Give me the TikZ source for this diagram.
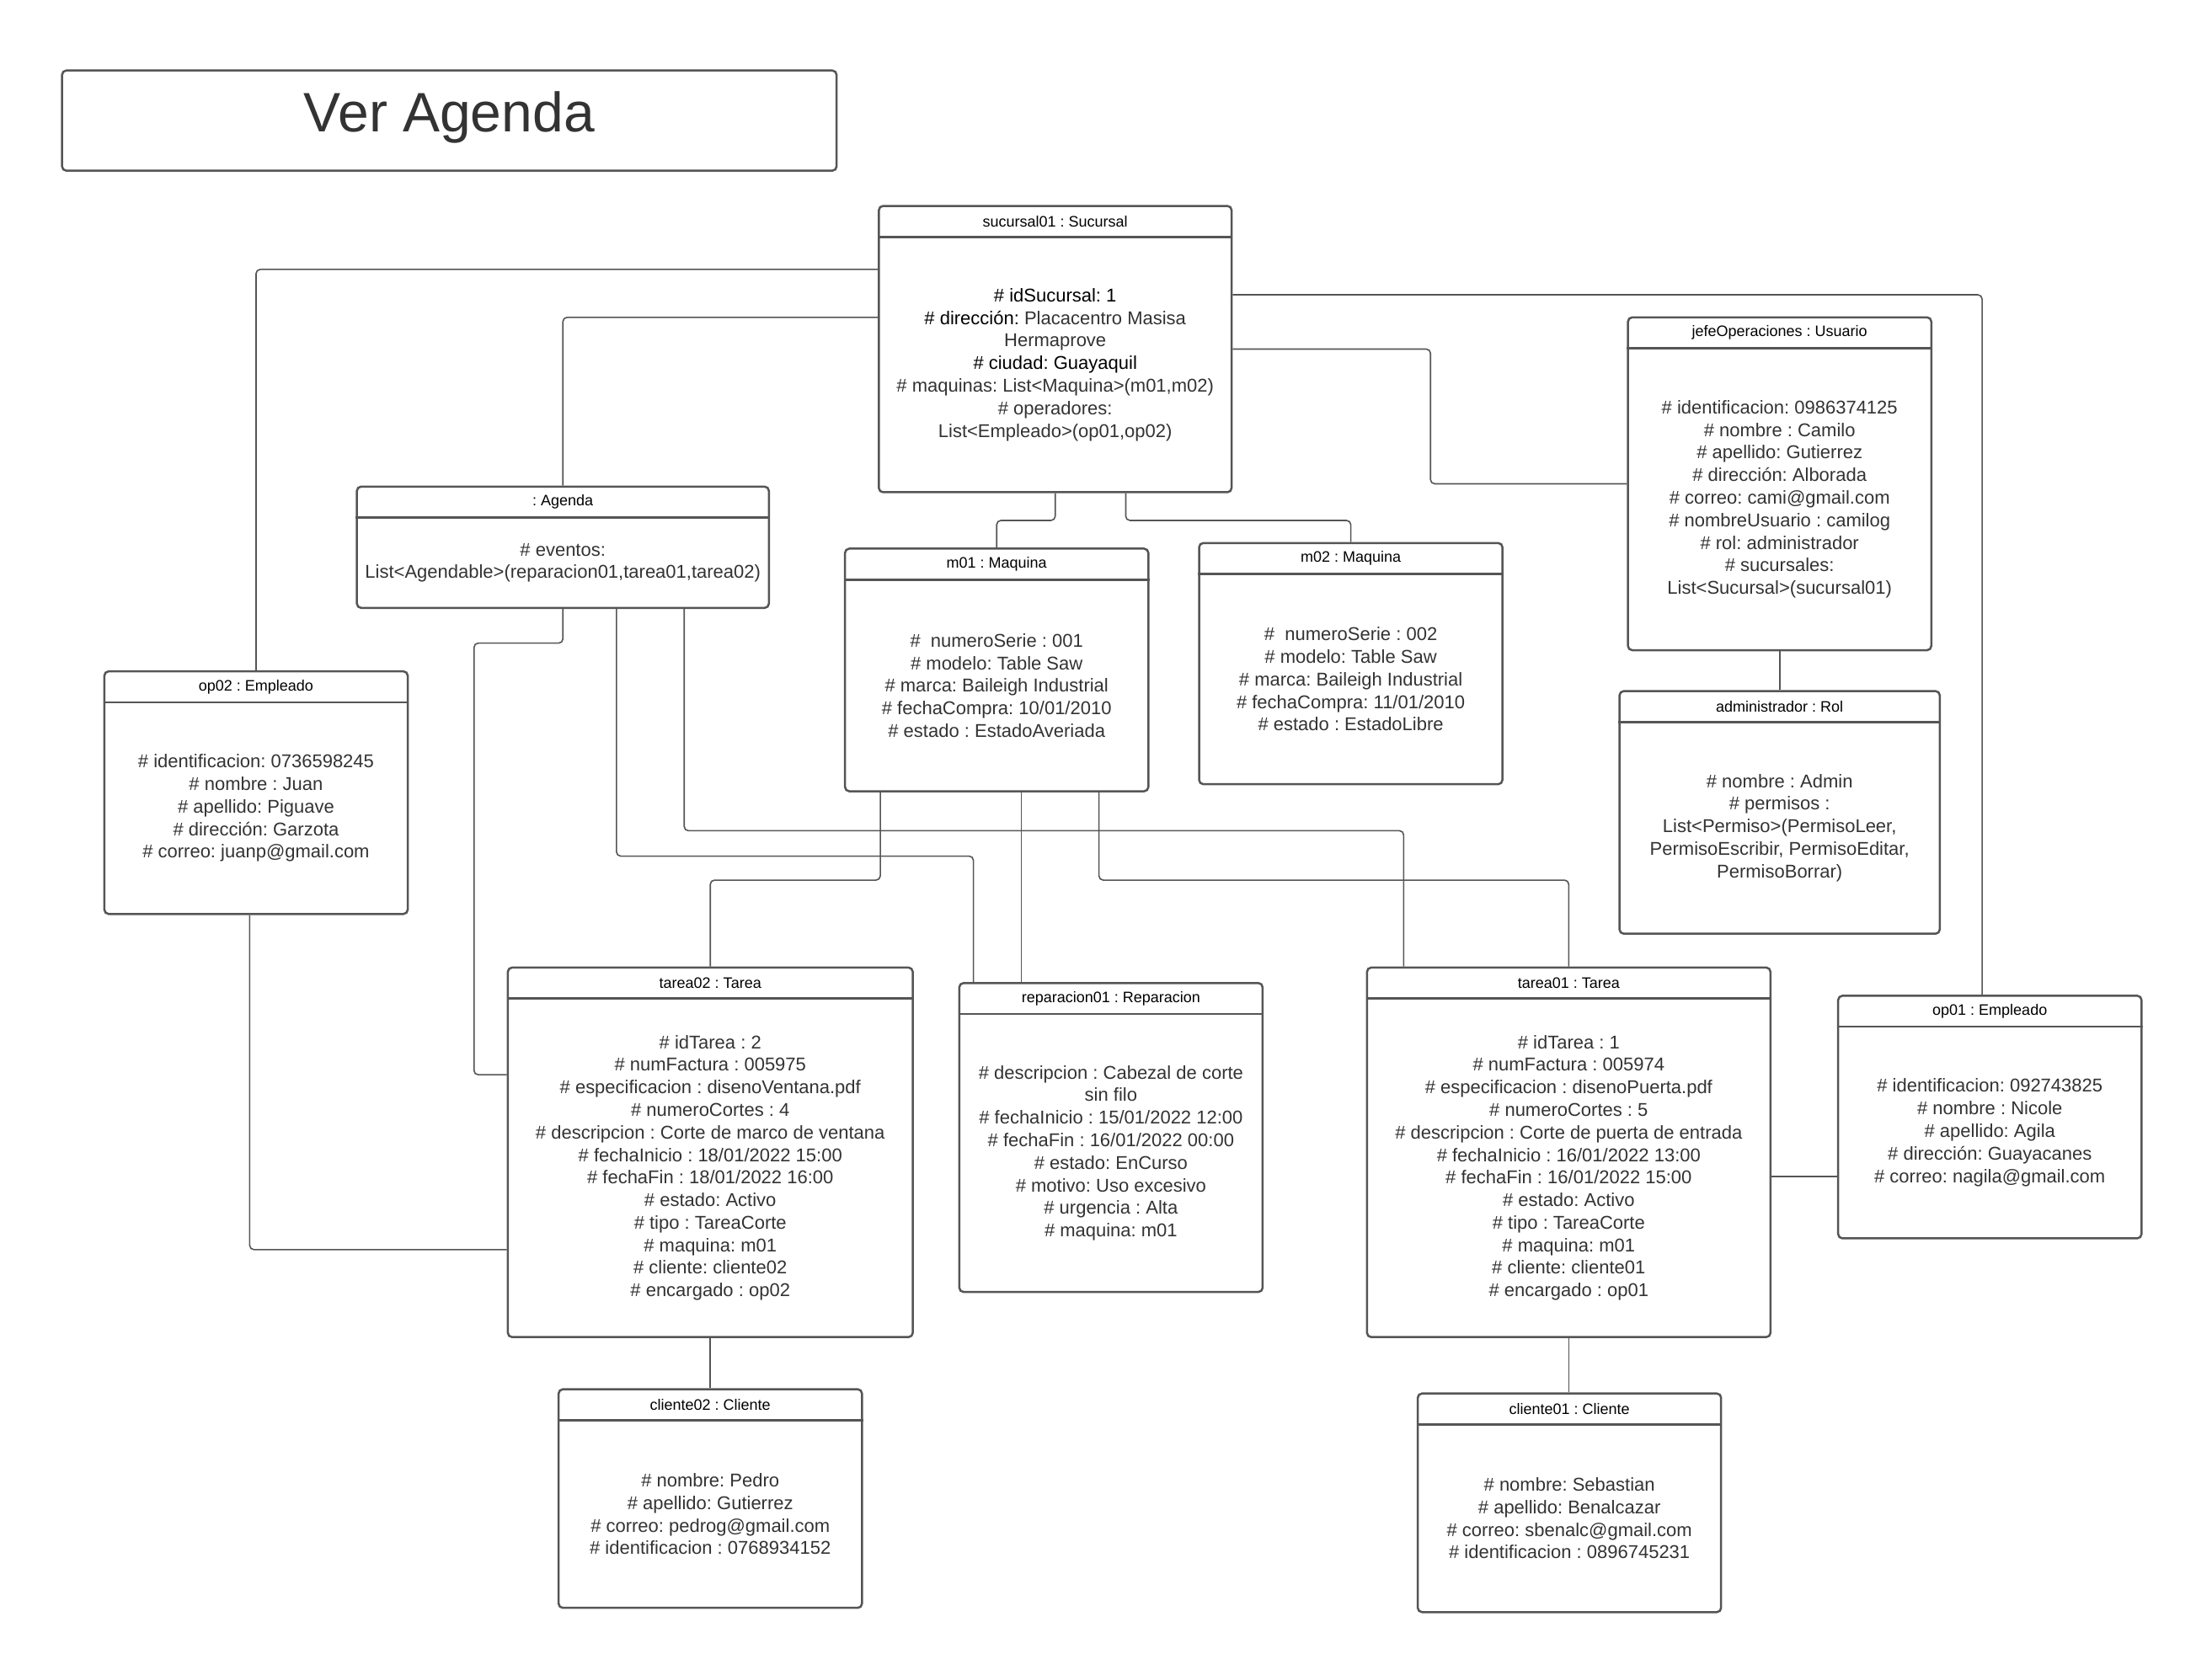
\documentclass[tikz,border=0pt]{standalone}
\usepackage{fontspec}
\setmainfont{Liberation Sans}
\frenchspacing
\usetikzlibrary{fit}
\definecolor{strokeg}{HTML}{555555}
\definecolor{txtg}{HTML}{333333}
\tikzset{
  box/.style={draw=strokeg, line width=1.25pt, rounded corners=2.5pt, inner sep=0pt, fill=white},
  boxline/.style={draw=strokeg, line width=1.25pt},
  hdr/.style={font=\fontsize{9}{11}\selectfont, text=black, inner sep=0pt},
  bodytxt/.style={font=\fontsize{11}{13.4}\selectfont, text=txtg, align=center, inner sep=0pt},
  conn/.style={draw=strokeg, line width=0.8pt, rounded corners=2.5pt},
}
\newcommand\objbox[8]{%
  \node[box, fit={(#2,#3) (#4,#5)}] (#1) {};
  \draw[boxline] (#1.west|-0,#6) -- (#1.east|-0,#6);
  \node[hdr] (#1-t) at ({(#2+#4)/2},{(#3+#6)/2}) {#7};
  \node[bodytxt] (#1-b) at ({(#2+#4)/2},{(#6+#5)/2}) {#8};
}
\begin{document}
\begin{tikzpicture}[x=0.8375pt, y=-0.8375pt]
\useasboundingbox[fill=white] (0,0) rectangle (1568,1184);

% title
\node[box, fit={(44,50) (593,121)}] (title) {};
\node[font=\fontsize{33}{38}\selectfont, text=txtg, inner sep=0pt] (titletext) at (318.5,83.5) {Ver Agenda};

\objbox{suc}{623}{146}{873}{349}{168}{sucursal01 : Sucursal}{%
  \textcolor{black}{\# idSucursal: 1}\\
  \textcolor{black}{\# dirección:} Placacentro Masisa\\
  Hermaprove\\
  \textcolor{black}{\# ciudad: Guayaquil}\\
  \# maquinas: List<Maquina>(m01,m02)\\
  \# operadores:\\
  List<Empleado>(op01,op02)}

\objbox{jefe}{1154}{225}{1369}{461}{247}{jefeOperaciones : Usuario}{%
  \# identificacion: 0986374125\\
  \# nombre : Camilo\\
  \# apellido: Gutierrez\\
  \# dirección: Alborada\\
  \# correo: cami@gmail.com\\
  \# nombreUsuario : camilog\\
  \# rol: administrador\\
  \# sucursales:\\
  List<Sucursal>(sucursal01)}

\objbox{agd}{253}{345}{545}{431}{367}{: Agenda}{%
  \# eventos:\\
  List<Agendable>(reparacion01,tarea01,tarea02)}

\objbox{m1}{599}{389}{814}{561}{411}{m01 : Maquina}{%
  \#\ \ numeroSerie : 001\\
  \# modelo: Table Saw\\
  \# marca: Baileigh Industrial\\
  \# fechaCompra: 10/01/2010\\
  \# estado : EstadoAveriada}

\objbox{m2}{850}{385}{1065}{556}{407}{m02 : Maquina}{%
  \#\ \ numeroSerie : 002\\
  \# modelo: Table Saw\\
  \# marca: Baileigh Industrial\\
  \# fechaCompra: 11/01/2010\\
  \# estado : EstadoLibre}

\objbox{adm}{1148}{490}{1375}{662}{512}{administrador : Rol}{%
  \# nombre : Admin\\
  \# permisos :\\
  List<Permiso>(PermisoLeer,\\
  PermisoEscribir, PermisoEditar,\\
  PermisoBorrar)}

\objbox{op2}{74}{476}{289}{648}{498}{op02 : Empleado}{%
  \# identificacion: 0736598245\\
  \# nombre : Juan\\
  \# apellido: Piguave\\
  \# dirección: Garzota\\
  \# correo: juanp@gmail.com}

\objbox{t2}{360}{686}{647}{948}{708}{tarea02 : Tarea}{%
  \# idTarea : 2\\
  \# numFactura : 005975\\
  \# especificacion : disenoVentana.pdf\\
  \# numeroCortes : 4\\
  \# descripcion : Corte de marco de ventana\\
  \# fechaInicio : 18/01/2022 15:00\\
  \# fechaFin : 18/01/2022 16:00\\
  \# estado: Activo\\
  \# tipo : TareaCorte\\
  \# maquina: m01\\
  \# cliente: cliente02\\
  \# encargado : op02}

\objbox{rep}{680}{697}{895}{916}{719}{reparacion01 : Reparacion}{%
  \# descripcion : Cabezal de corte\\
  sin filo\\
  \# fechaInicio : 15/01/2022 12:00\\
  \# fechaFin : 16/01/2022 00:00\\
  \# estado: EnCurso\\
  \# motivo: Uso excesivo\\
  \# urgencia : Alta\\
  \# maquina: m01}

\objbox{t1}{969}{686}{1255}{948}{708}{tarea01 : Tarea}{%
  \# idTarea : 1\\
  \# numFactura : 005974\\
  \# especificacion : disenoPuerta.pdf\\
  \# numeroCortes : 5\\
  \# descripcion : Corte de puerta de entrada\\
  \# fechaInicio : 16/01/2022 13:00\\
  \# fechaFin : 16/01/2022 15:00\\
  \# estado: Activo\\
  \# tipo : TareaCorte\\
  \# maquina: m01\\
  \# cliente: cliente01\\
  \# encargado : op01}

\objbox{op1}{1303}{706}{1518}{878}{728}{op01 : Empleado}{%
  \# identificacion: 092743825\\
  \# nombre : Nicole\\
  \# apellido: Agila\\
  \# dirección: Guayacanes\\
  \# correo: nagila@gmail.com}

\objbox{c2}{396}{985}{611}{1140}{1007}{cliente02 : Cliente}{%
  \# nombre: Pedro\\
  \# apellido: Gutierrez\\
  \# correo: pedrog@gmail.com\\
  \# identificacion : 0768934152}

\objbox{c1}{1005}{988}{1220}{1143}{1010}{cliente01 : Cliente}{%
  \# nombre: Sebastian\\
  \# apellido: Benalcazar\\
  \# correo: sbenalc@gmail.com\\
  \# identificacion : 0896745231}

% connectors
\draw[conn] (suc.west|-0,191) -| (op2.north);
\draw[conn] (suc.west|-0,225) -| (agd.north);
\draw[conn] (suc.east|-0,209) -| (op1.north-|1405,0);
\draw[conn] (suc.east) -| (1014,343) -- (jefe.west);
\draw[conn] (suc.south) -- (748,369) -| (m1.north);
\draw[conn] (suc.south-|798,0) -- (798,369) -| (m2.north);
\draw[conn] (jefe.south) -- (adm.north-|jefe.south);
\draw[conn] (agd.south) |- (336,456) |- (t2.west|-0,762);
\draw[conn] (agd.south-|437,0) -- (437,607) -| (rep.north-|690,0);
\draw[conn] (agd.south-|485,0) -- (485,589) -| (t1.north-|995,0);
\draw[conn] (m1.south-|624,0) -- (624,624) -| (t2.north);
\draw[conn] (m1.south-|724,0) -- (rep.north-|724,0);
\draw[conn] (m1.south-|779,0) -- (779,624) -| (t1.north);
\draw[conn] (op2.south-|177,0) |- (t2.west|-0,886);
\draw[conn] (t2.south) -- (c2.north-|t2.south);
\draw[conn] (t1.south) -- (c1.north-|t1.south);
\draw[conn] (t1.east|-0,834) -- (op1.west|-0,834);

\end{tikzpicture}
\end{document}
